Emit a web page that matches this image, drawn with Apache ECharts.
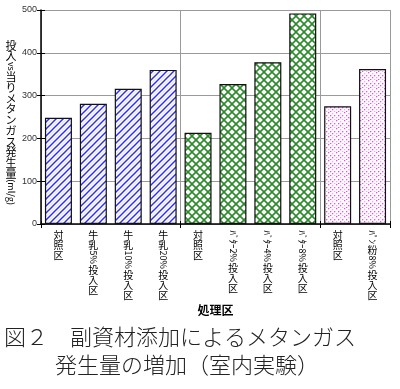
<!DOCTYPE html>
<html><head><meta charset="utf-8">
<script src="https://cdn.jsdelivr.net/npm/echarts@6/dist/echarts.min.js"></script>
<style>html,body{margin:0;padding:0;background:#fff}#c{width:400px;height:389px}</style>
</head><body><div id="c"></div>
<script>
const categories = ['対照区','牛乳5%投入区','牛乳10%投入区','牛乳20%投入区','対照区','ﾊﾞﾀｰ2%投入区','ﾊﾞﾀｰ4%投入区','ﾊﾞﾀｰ8%投入区','対照区','ﾊﾟﾝ粉8%投入区'];
const values = [248, 281, 316, 360, 213, 327, 378, 492, 275, 362];
const groupOfBar = [0,0,0,0,1,1,1,1,2,2]; // 0: milk, 1: butter, 2: bread crumbs
const yTicks = [0, 100, 200, 300, 400, 500];
const yName = '投入vs当りメタンガス発生量(ml/g)';
const xName = '処理区';
const captionLines = ['図２　副資材添加によるメタンガス', '発生量の増加（室内実験）'];

const FONT = "'Noto Sans CJK JP', 'Liberation Sans', sans-serif";

function makeTile(w, h, draw) {
  const c = document.createElement('canvas');
  c.width = w; c.height = h;
  const g = c.getContext('2d');
  g.fillStyle = '#fff'; g.fillRect(0, 0, w, h);
  draw(g, w, h);
  return c;
}
const stripeTile = makeTile(7, 7, (g, w) => {
  function diag(off, col, lw) {
    g.strokeStyle = col; g.lineWidth = lw;
    for (let k = -1; k <= 1; k++) {
      g.beginPath(); g.moveTo(-1 + k * w + off, w + 1); g.lineTo(w + 1 + k * w + off, -1); g.stroke();
    }
  }
  diag(3.5, '#d6d6fb', 1);
  diag(0, '#2f2fe8', 1.5);
});
const crossTile = makeTile(8, 8, (g, w) => {
  g.strokeStyle = '#2c8a2c'; g.lineWidth = 1.6;
  for (let k = -1; k <= 1; k++) {
    g.beginPath(); g.moveTo(k * w, 0); g.lineTo(w + k * w, w); g.stroke();
    g.beginPath(); g.moveTo(k * w, w); g.lineTo(w + k * w, 0); g.stroke();
  }
});
const dotTile = makeTile(8, 8, (g) => {
  const dots = [[0,0],[4,1],[2,3],[6,3],[0,5],[4,5],[2,7],[6,7]];
  dots.forEach(([x, y], i) => { g.fillStyle = i % 3 === 1 ? '#f6a6f6' : '#ee4cee'; g.fillRect(x, y, 1.3, 1.3); });
});
const fills = [stripeTile, crossTile, dotTile].map(t => ({ image: t, repeat: 'repeat' }));

const chart = echarts.init(document.getElementById('c'), null, { renderer: 'canvas' });
const GRID = { left: 41, right: 10, top: 10, bottom: 165 };

chart.setOption({
  animation: false,
  backgroundColor: '#fff',
  grid: GRID,
  xAxis: [{
    type: 'category', data: categories,
    axisLine: { lineStyle: { color: '#000', width: 1.5 } },
    axisTick: { show: true, length: 4, lineStyle: { color: '#000' } },
    axisLabel: { show: false },
    splitLine: { show: true, lineStyle: { color: '#9a9a9a', width: 1 } },
    name: xName, nameLocation: 'middle', nameGap: 80,
    nameTextStyle: { fontFamily: FONT, fontSize: 12, fontWeight: 'bold', color: '#000' }
  }, {
    type: 'category', data: categories, position: 'bottom',
    axisLine: { show: false },
    axisTick: { show: true, inside: true, length: 3, lineStyle: { color: '#000' } },
    axisLabel: { show: false }, splitLine: { show: false }
  }],
  yAxis: [{
    type: 'value', min: yTicks[0], max: yTicks[yTicks.length - 1], interval: yTicks[1] - yTicks[0],
    axisLine: { show: true, lineStyle: { color: '#000', width: 1.5 } },
    axisTick: { show: true, length: 4, lineStyle: { color: '#000' } },
    axisLabel: { fontFamily: "'Liberation Sans', Arial, sans-serif", fontSize: 9, color: '#333', margin: 4 },
    splitLine: { show: true, lineStyle: { color: '#9a9a9a', width: 1 } }
  }, {
    type: 'value', position: 'left', min: yTicks[0], max: yTicks[yTicks.length - 1], interval: yTicks[1] - yTicks[0],
    axisLine: { show: false },
    axisTick: { show: true, inside: true, length: 4, lineStyle: { color: '#000' } },
    axisLabel: { show: false }, splitLine: { show: false }
  }],
  series: [{
    type: 'bar', barWidth: 27,
    data: values.map((v, i) => ({ value: v, itemStyle: { color: fills[groupOfBar[i]] } })),
    itemStyle: { borderColor: '#111', borderWidth: 1.2 }
  }]
});

const mctx = document.createElement('canvas').getContext('2d');
function measure(t, size) { mctx.font = size + 'px ' + FONT; return mctx.measureText(t).width; }
function isUpright(ch) {
  const c = ch.charCodeAt(0);
  if (c >= 0xFF61 && c <= 0xFF9F) return false;
  return c >= 0x2E80;
}
function verticalText(str, cx, top, size, rotSize, pitch, weight) {
  const els = []; let y = top; let run = '';
  function flush() {
    if (!run) return;
    els.push({ type: 'text', x: cx, y: y + 0.5, rotation: -Math.PI / 2,
      style: { text: run, fontFamily: FONT, fontSize: rotSize, fontWeight: weight, fill: '#000',
        textAlign: 'left', textVerticalAlign: 'middle', align: 'left', verticalAlign: 'middle' } });
    y += measure(run, rotSize) + 1.5; run = '';
  }
  for (const ch of str) {
    if (isUpright(ch)) {
      flush();
      els.push({ type: 'text', x: cx, y: y + pitch / 2,
        style: { text: ch, fontFamily: FONT, fontSize: size, fontWeight: weight, fill: '#000',
          textAlign: 'center', textVerticalAlign: 'middle', align: 'center', verticalAlign: 'middle' } });
      y += pitch;
    } else run += ch;
  }
  flush();
  return els;
}

const graphics = [];
categories.forEach((name, i) => {
  const px = chart.convertToPixel({ xAxisIndex: 0 }, i);
  const y0 = chart.convertToPixel({ yAxisIndex: 0 }, 0);
  verticalText(name, px, y0 + 6, 10, 9, 10, 'normal').forEach(e => graphics.push(e));
});
verticalText(yName, 11, 40, 11, 9, 10.7, 'normal').forEach(e => graphics.push(e));
graphics.push({ type: 'text', x: 4, y: 337,
  style: { text: captionLines[0], fontFamily: FONT, fontSize: 22, fontWeight: 300, fill: '#222',
    textAlign: 'left', textVerticalAlign: 'middle', align: 'left', verticalAlign: 'middle' } });
graphics.push({ type: 'text', x: 55, y: 365,
  style: { text: captionLines[1], fontFamily: FONT, fontSize: 22, fontWeight: 300, fill: '#222',
    textAlign: 'left', textVerticalAlign: 'middle', align: 'left', verticalAlign: 'middle' } });
chart.setOption({ graphic: { elements: graphics } });
</script></body></html>
